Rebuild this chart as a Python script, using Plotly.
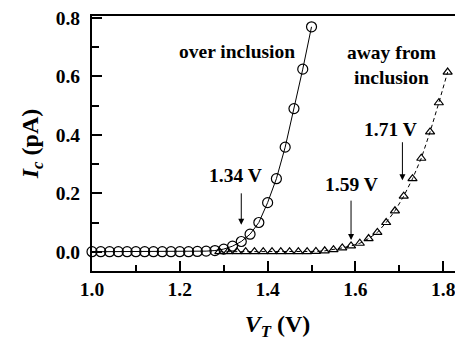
import plotly.graph_objects as go

# over inclusion (circles)
vt_over = [1.00, 1.02, 1.04, 1.06, 1.08, 1.10, 1.12, 1.14, 1.16, 1.18, 1.20, 1.22, 1.24,
           1.26, 1.28, 1.30, 1.32, 1.34, 1.36, 1.38, 1.40, 1.42, 1.44, 1.46, 1.48, 1.50]
ic_over = [0.0, 0.0, 0.0, 0.0, 0.0, 0.0, 0.0, 0.0, 0.0, 0.0, 0.0, 0.0, 0.001,
           0.002, 0.004, 0.009, 0.019, 0.035, 0.060, 0.100, 0.168, 0.250, 0.358, 0.490, 0.625, 0.770]

# away from inclusion (triangles)
vt_away = [1.29, 1.31, 1.33, 1.35, 1.37, 1.39, 1.41, 1.43, 1.45, 1.47, 1.49, 1.51, 1.53, 1.55,
           1.57, 1.59, 1.61, 1.63, 1.65, 1.67, 1.69, 1.71, 1.73, 1.75, 1.77, 1.79, 1.81]
ic_away = [0.0, 0.0, 0.0, 0.0, 0.0, 0.0, 0.0, 0.0, 0.0, 0.0, 0.0, 0.001, 0.003, 0.007,
           0.013, 0.020, 0.029, 0.045, 0.066, 0.100, 0.140, 0.190, 0.250, 0.320, 0.410, 0.510, 0.615]

x_ticks = [1.0, 1.2, 1.4, 1.6, 1.8]
x_ticklabels = ["1.0", "1.2", "1.4", "1.6", "1.8"]
y_ticks = [0.0, 0.2, 0.4, 0.6, 0.8]
y_ticklabels = ["0.0", "0.2", "0.4", "0.6", "0.8"]

# onset labels: text, arrow x, arrow tip y, arrow tail y, label x, label y
onset_text = ["1.34 V", "1.59 V", "1.71 V"]
onset_x = [1.34, 1.59, 1.707]
onset_tip = [0.092, 0.040, 0.245]
onset_tail = [0.205, 0.180, 0.380]
onset_lx = [1.326, 1.592, 1.679]
onset_ly = [0.262, 0.231, 0.420]

series_text = ["over inclusion", "away from<br>inclusion"]
series_lx = [1.330, 1.683]
series_ly = [0.685, 0.640]

FONT = "Liberation Serif"
ANN_SIZE = 19.5

fig = go.Figure()
fig.add_trace(go.Scatter(
    x=vt_over, y=ic_over, mode="lines+markers",
    line=dict(color="black", width=1),
    marker=dict(symbol="circle-open", size=10, color="black", line=dict(width=1.2)),
    cliponaxis=False, showlegend=False))
fig.add_trace(go.Scatter(
    x=vt_away, y=ic_away, mode="lines+markers",
    line=dict(color="black", width=1, dash="4px,3px"),
    marker=dict(symbol="triangle-up-open", size=8, color="black", line=dict(width=1.2)),
    cliponaxis=False, showlegend=False))

annotations = []
for t, x, tip, tail, lx, ly in zip(onset_text, onset_x, onset_tip, onset_tail, onset_lx, onset_ly):
    annotations.append(dict(x=x, y=tip, ax=x, ay=tail, xref="x", yref="y", axref="x", ayref="y",
                            text="", showarrow=True, arrowhead=2, arrowsize=1.2, arrowwidth=1,
                            arrowcolor="black"))
    annotations.append(dict(x=lx, y=ly, xref="x", yref="y", text="<b>" + t + "</b>",
                            showarrow=False, font=dict(family=FONT, size=ANN_SIZE, color="black")))
for t, lx, ly in zip(series_text, series_lx, series_ly):
    annotations.append(dict(x=lx, y=ly, xref="x", yref="y", text="<b>" + t + "</b>",
                            showarrow=False, font=dict(family=FONT, size=ANN_SIZE, color="black")))

# the page body has an 8px margin, so the figure is sized and offset to compensate
fig.update_layout(
    width=455, height=335,
    margin=dict(l=84, r=0, t=5, b=72),
    paper_bgcolor="white", plot_bgcolor="white",
    font=dict(family=FONT, color="black"),
    annotations=annotations,
    xaxis=dict(range=[1.0, 1.845], tickvals=x_ticks, ticktext=["<b>%s</b>" % s for s in x_ticklabels],
               ticks="inside", ticklen=10, tickwidth=1.5, tickcolor="black",
               minor=dict(dtick=0.1, ticks="inside", ticklen=6, tickwidth=1.5, tickcolor="black"),
               showline=True, linecolor="black", linewidth=2, mirror=True,
               showgrid=False, zeroline=False,
               tickfont=dict(family=FONT, size=19.5, color="black"),
               title=dict(text="<b><i>V<sub>T</sub></i> (V)</b>", standoff=16,
                          font=dict(family=FONT, size=24, color="black"))),
    yaxis=dict(range=[-0.066, 0.807], tickvals=y_ticks, ticktext=["<b>%s</b>" % s for s in y_ticklabels],
               ticks="inside", ticklen=10, tickwidth=1.5, tickcolor="black",
               minor=dict(dtick=0.1, ticks="inside", ticklen=7, tickwidth=1.5, tickcolor="black"),
               showline=True, linecolor="black", linewidth=2, mirror=False,
               showgrid=False, zeroline=False, ticklabeloverflow="allow", ticklabelstandoff=6,
               tickfont=dict(family=FONT, size=19.5, color="black"),
               title=dict(text="<b><i>I<sub>c</sub></i> (pA)</b>", standoff=10,
                          font=dict(family=FONT, size=24, color="black"))),
)

fig.write_html("out.html")
